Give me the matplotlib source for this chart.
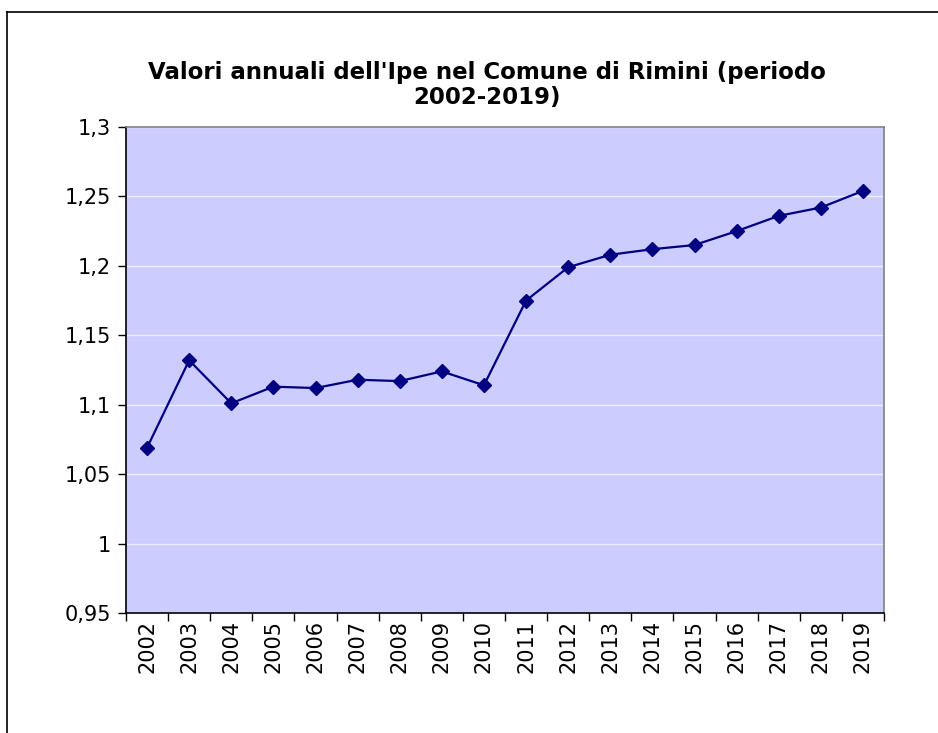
import numpy as np
import matplotlib.pyplot as plt
from matplotlib.lines import Line2D

plt.rcParams['font.family'] = ['DejaVu Sans']

# dati
anni = ['2002', '2003', '2004', '2005', '2006', '2007', '2008', '2009', '2010',
        '2011', '2012', '2013', '2014', '2015', '2016', '2017', '2018', '2019']
ipe = [1.069, 1.132, 1.101, 1.113, 1.112, 1.118, 1.117, 1.124, 1.114,
       1.175, 1.199, 1.208, 1.212, 1.215, 1.225, 1.236, 1.242, 1.254]
y_ticks = [0.95, 1.0, 1.05, 1.1, 1.15, 1.2, 1.25, 1.3]
y_labels = ['0,95', '1', '1,05', '1,1', '1,15', '1,2', '1,25', '1,3']

W, H = 938, 733
fig = plt.figure(figsize=(W / 100, H / 100), dpi=100)

# bordo esterno del grafico (solo lato sinistro e superiore visibili)
bx, by = 6.5 / W, 1 - 11.5 / H
fig.lines.append(Line2D([bx, bx], [-0.01, by], transform=fig.transFigure, color='black', linewidth=1.2))
fig.lines.append(Line2D([bx, 1.01], [by, by], transform=fig.transFigure, color='black', linewidth=1.2))

left, right, top, bottom = 126, 884, 127, 613
ax = fig.add_axes([left / W, 1 - bottom / H, (right - left) / W, (bottom - top) / H])
ax.set_facecolor('#CCCCFF')

x = np.arange(len(anni))
ax.plot(x, ipe, color='#000080', linewidth=1.6, marker='D', markersize=7,
        markerfacecolor='#000080', markeredgecolor='#000080', zorder=3)

ax.set_xlim(-0.5, len(anni) - 0.5)
ax.set_ylim(0.95, 1.3)

ax.set_yticks(y_ticks)
ax.set_yticklabels(y_labels, fontsize=15)
ax.yaxis.grid(True, color='#EEEEFF', linewidth=1)
ax.set_axisbelow(True)

ax.set_xticks(x)
ax.set_xticklabels(anni, rotation=90, fontsize=15)
ax.set_xticks(np.arange(len(anni) + 1) - 0.5, minor=True)
ax.tick_params(axis='x', which='major', length=0, pad=5)
ax.tick_params(axis='x', which='minor', length=6, width=1, direction='out')
ax.tick_params(axis='y', length=6, width=1, direction='out', pad=5)

ax.spines['left'].set_color('black')
ax.spines['bottom'].set_color('black')
ax.spines['top'].set_color('#808080')
ax.spines['right'].set_color('#808080')
for s in ax.spines.values():
    s.set_linewidth(1.2)

fig.text(487 / W, 1 - 85 / H, "Valori annuali dell'Ipe nel Comune di Rimini (periodo\n2002-2019)",
         ha='center', va='center', fontsize=16.5, fontweight='bold', linespacing=1.1)

plt.savefig('out.png', dpi=100)
